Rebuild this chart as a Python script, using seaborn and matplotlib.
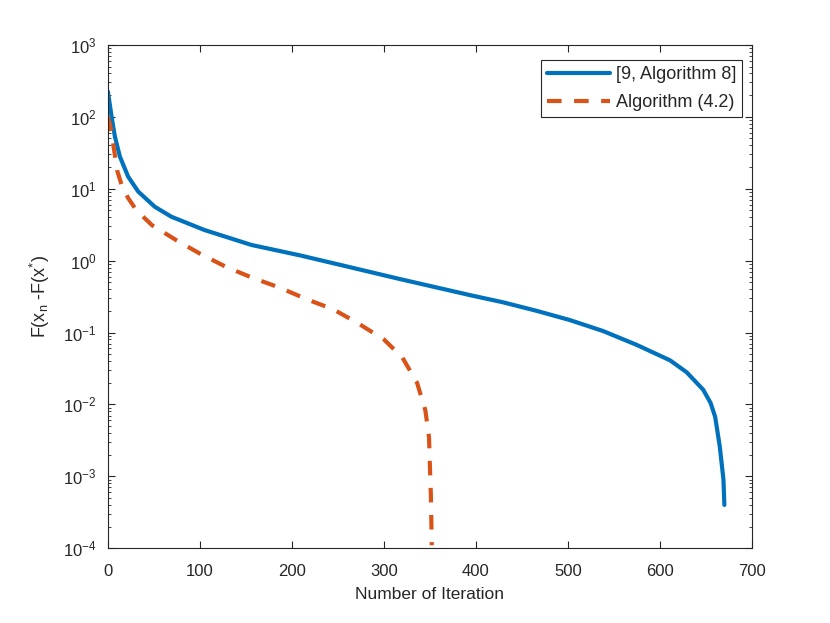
import numpy as np
import pandas as pd
import matplotlib
matplotlib.use("Agg")
import matplotlib.pyplot as plt
import seaborn as sns
from matplotlib.ticker import LogLocator, NullFormatter

# --- data ---
iter_alg8 = [0, 4, 7.6, 13, 22, 33, 51, 69, 105, 156, 209, 263, 317, 394, 430,
             466, 502, 538, 575, 611, 629, 647, 655, 660, 665, 669, 670]
err_alg8 = [224, 100, 53, 28, 14.7, 9.1, 5.6, 4.07, 2.66, 1.65, 1.18, 0.81,
            0.555, 0.33, 0.262, 0.20, 0.149, 0.105, 0.067, 0.041, 0.028,
            0.016, 0.0105, 0.0067, 0.0026, 0.0009, 0.0004]

iter_alg42 = [0, 2, 4, 6, 8, 10, 15, 22, 31, 48, 75, 100, 129, 158, 187, 216,
              245, 272, 300, 320, 336, 345, 349, 350, 351, 352]
err_alg42 = [100, 80, 60, 40, 27, 18, 11.2, 7.4, 5.0, 3.1, 1.9, 1.25, 0.81,
             0.57, 0.42, 0.29, 0.21, 0.134, 0.08, 0.045, 0.02, 0.0083, 0.0035,
             0.00135, 0.00055, 0.00011]

label_alg8 = "[9, Algorithm 8]"
label_alg42 = "Algorithm (4.2)"

sns.set_style("ticks")
plt.rcParams['font.family'] = ['Liberation Sans', 'DejaVu Sans']
plt.rcParams['mathtext.fontset'] = 'custom'
plt.rcParams['mathtext.rm'] = 'Liberation Sans'
plt.rcParams['mathtext.it'] = 'Liberation Sans:italic'

fig = plt.figure(figsize=(8.3, 6.23), dpi=100)
ax = fig.add_axes([0.130, 0.120, 0.776, 0.808])

sns.lineplot(x=iter_alg8, y=err_alg8, ax=ax, color="#0072BD", lw=3,
             label=label_alg8, estimator=None, sort=False)
sns.lineplot(x=iter_alg42, y=err_alg42, ax=ax, color="#D95319", lw=3,
             label=label_alg42, estimator=None, sort=False)
ax.lines[1].set_dashes((3.5, 3.0))
ax.lines[1].set_dash_capstyle('butt')

ax.set_yscale("log")
ax.set_xlim(0, 700)
ax.set_ylim(1e-4, 1e3)
ax.set_xticks(np.arange(0, 701, 100))
ax.yaxis.set_major_locator(LogLocator(base=10, numticks=10))
ax.yaxis.set_minor_locator(LogLocator(base=10, subs=np.arange(2, 10), numticks=20))
ax.yaxis.set_minor_formatter(NullFormatter())

grey = "#262626"
for s in ax.spines.values():
    s.set_color(grey)
    s.set_linewidth(0.8)
ax.tick_params(which='both', direction='in', top=True, right=True,
               color=grey, labelcolor=grey, labelsize=12)
ax.tick_params(which='major', length=5)
ax.tick_params(which='minor', length=2.5)
ax.tick_params(axis='x', pad=11)
ax.tick_params(axis='y', pad=8)

ax.set_xlabel("Number of Iteration", fontsize=12.5, color=grey, labelpad=6)
ax.set_ylabel(r"F(x$_\mathregular{n}$ -F(x$^\mathregular{*}$)", fontsize=13,
              color=grey, labelpad=8)

leg = ax.legend(loc='upper right', bbox_to_anchor=(0.985, 0.97), borderaxespad=0,
                fancybox=False, fontsize=13, handlelength=3.5, handletextpad=0.3,
                labelspacing=0.6, borderpad=0.35, framealpha=1, edgecolor=grey)
leg.get_frame().set_linewidth(0.8)

fig.savefig("out.png", dpi=100)
